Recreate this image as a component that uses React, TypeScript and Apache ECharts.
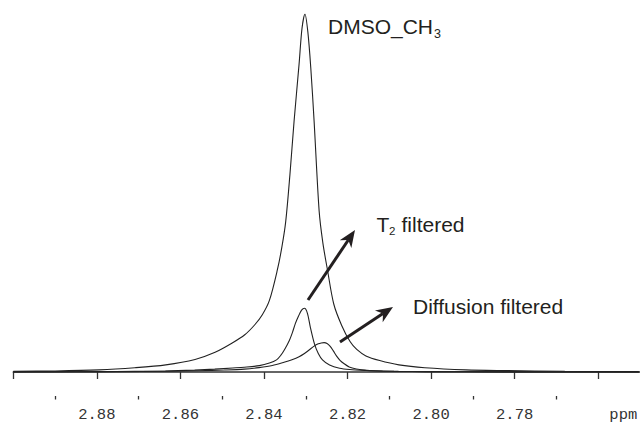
import React, { useEffect, useRef } from "react";
import * as echarts from "echarts";

// Chemical shift (ppm) and intensity (main peak = 100)
const mainPpm = [2.9, 2.89, 2.8795, 2.8709, 2.8635, 2.8565, 2.8517, 2.8476, 2.8446, 2.8422, 2.8404, 2.8387, 2.8368, 2.8357, 2.8348, 2.8338, 2.8328, 2.8316, 2.8309, 2.8302, 2.8295, 2.8288, 2.828, 2.8268, 2.8259, 2.8248, 2.8233, 2.8214, 2.8194, 2.8178, 2.8156, 2.8123, 2.8077, 2.8015, 2.7917, 2.7824, 2.768, 2.7503];
const mainInt = [0.2, 0.3, 0.6, 1.2, 2.0, 3.5, 5.5, 8.1, 10.4, 13.2, 16.0, 20, 28.5, 35, 42, 55, 70, 86, 96, 100, 95, 85, 70, 45, 36, 28.5, 19, 13, 8.5, 6.3, 4.5, 3.2, 2.0, 1.2, 0.6, 0.4, 0.2, 0.1];

const t2Ppm = [2.9, 2.8901, 2.8796, 2.871, 2.8636, 2.8566, 2.8518, 2.8475, 2.8447, 2.8411, 2.8387, 2.837, 2.836, 2.8351, 2.8339, 2.8332, 2.8325, 2.8317, 2.831, 2.8303, 2.8296, 2.8289, 2.8279, 2.827, 2.826, 2.8243, 2.8219, 2.8195, 2.8157, 2.8116, 2.8078, 2.8016, 2.7918, 2.7825, 2.7681, 2.7502];
const t2Int = [0.04, 0.07, 0.11, 0.18, 0.27, 0.53, 0.8, 1.12, 1.34, 1.78, 2.49, 3.38, 4.63, 6.23, 8.9, 11.0, 13.5, 15.7, 17.3, 17.8, 16.4, 12.5, 7.8, 5.2, 3.4, 1.96, 1.07, 0.71, 0.45, 0.27, 0.18, 0.11, 0.07, 0.05, 0.04, 0.02];

const diffPpm = [2.9, 2.8854, 2.8749, 2.8639, 2.8555, 2.8495, 2.8447, 2.8412, 2.838, 2.8352, 2.8333, 2.8316, 2.8304, 2.8292, 2.828, 2.827, 2.8263, 2.8256, 2.8249, 2.8242, 2.8234, 2.8227, 2.8218, 2.8208, 2.8196, 2.8179, 2.816, 2.8132, 2.8089, 2.8041, 2.7969, 2.7873, 2.773, 2.7502];
const diffInt = [0.03, 0.06, 0.1, 0.21, 0.37, 0.57, 0.82, 1.23, 1.8, 2.71, 3.44, 4.26, 5.08, 6.15, 7.22, 7.87, 8.12, 8.2, 7.95, 7.22, 5.9, 4.59, 3.28, 2.3, 1.39, 0.82, 0.53, 0.33, 0.21, 0.13, 0.08, 0.05, 0.02, 0.01];

// Axis ticks and labels
const majorTicks = [2.9, 2.88, 2.86, 2.84, 2.82, 2.8, 2.78, 2.76];
const minorTicks = [2.89, 2.87, 2.85, 2.83, 2.81, 2.79, 2.77];
const labeledTicks = [2.88, 2.86, 2.84, 2.82, 2.8, 2.78];
const unitPos = 2.754;
const unitLabel = "ppm";

function arrow(x0: number, y0: number, x1: number, y1: number) {
  const dx = x1 - x0;
  const dy = y1 - y0;
  const len = Math.sqrt(dx * dx + dy * dy);
  const ux = dx / len;
  const uy = dy / len;
  const nx = -uy;
  const ny = ux;
  const L = 17;
  const W = 7;
  const notch = 5;
  const bx = x1 - L * ux;
  const by = y1 - L * uy;
  const mx = x1 - (L - notch) * ux;
  const my = y1 - (L - notch) * uy;
  return [
    {
      type: "line",
      shape: { x1: x0, y1: y0, x2: mx, y2: my },
      style: { stroke: "#231f20", lineWidth: 3 },
    },
    {
      type: "polygon",
      shape: {
        points: [
          [x1, y1],
          [bx + W * nx, by + W * ny],
          [mx, my],
          [bx - W * nx, by - W * ny],
        ],
      },
      style: { fill: "#231f20" },
    },
  ];
}

export default function App() {
  const ref = useRef<HTMLDivElement>(null);
  useEffect(() => {
    if (!ref.current) return;
    const chart = echarts.init(ref.current, null, { renderer: "svg" });
    const lineStyle = { color: "#222", width: 1.1 };
    const textFont = "'Liberation Sans', Arial, sans-serif";
    const monoFont = "'Courier New', 'Liberation Mono', monospace";
    const textColor = "#231f20";
    chart.setOption({
      animation: false,
      backgroundColor: "#fff",
      grid: { left: 13.3, right: 0, top: 14, bottom: 28, containLabel: false, outerBoundsMode: "none" },
      xAxis: [
        {
          type: "value",
          position: "bottom",
          inverse: true,
          min: 2.75,
          max: 2.9,
          splitLine: { show: false },
          axisLine: { show: true, lineStyle: { color: "#333", width: 1.5 } },
          axisTick: { show: true, length: 7, customValues: majorTicks, lineStyle: { color: "#333", width: 1.3 } },
          axisLabel: {
            margin: 13,
            fontSize: 15.5,
            lineHeight: 12,
            color: "#333",
            fontFamily: monoFont,
            customValues: [...labeledTicks, unitPos],
            formatter: (v: number) => {
              if (Math.abs(v - unitPos) < 1e-6) return unitLabel;
              return (Math.round(v * 100) / 100).toFixed(2);
            },
          },
        },
        {
          type: "value",
          position: "bottom",
          inverse: true,
          min: 2.75,
          max: 2.9,
          splitLine: { show: false },
          axisLine: { show: false },
          axisTick: { show: true, length: 3.5, customValues: minorTicks, lineStyle: { color: "#333", width: 1.3 } },
          axisLabel: { show: false },
        },
      ],
      yAxis: { type: "value", min: -6.7, max: 100, show: false },
      series: [
        {
          type: "line",
          xAxisIndex: 0,
          data: mainPpm.map((p, i) => [p, mainInt[i]]),
          showSymbol: false,
          smooth: 0.3,
          lineStyle,
          silent: true,
        },
        {
          type: "line",
          xAxisIndex: 0,
          data: t2Ppm.map((p, i) => [p, t2Int[i]]),
          showSymbol: false,
          smooth: 0.3,
          lineStyle,
          silent: true,
        },
        {
          type: "line",
          xAxisIndex: 0,
          data: diffPpm.map((p, i) => [p, diffInt[i]]),
          showSymbol: false,
          smooth: 0.3,
          lineStyle,
          silent: true,
        },
      ],
      graphic: [
        {
          type: "text",
          left: 328,
          top: 15.5,
          style: { text: "DMSO_CH", fontSize: 21, fontFamily: textFont, fill: textColor },
        },
        {
          type: "text",
          left: 434,
          top: 27,
          style: { text: "3", fontSize: 12.5, fontFamily: textFont, fill: textColor },
        },
        {
          type: "text",
          left: 376.5,
          top: 213.5,
          style: { text: "T", fontSize: 21, fontFamily: textFont, fill: textColor },
        },
        {
          type: "text",
          left: 389,
          top: 225,
          style: { text: "2", fontSize: 11.5, fontFamily: textFont, fill: textColor },
        },
        {
          type: "text",
          left: 401.5,
          top: 213.5,
          style: { text: "filtered", fontSize: 21, fontFamily: textFont, fill: textColor },
        },
        {
          type: "text",
          left: 413,
          top: 295.5,
          style: { text: "Diffusion filtered", fontSize: 21, fontFamily: textFont, fill: textColor },
        },
        ...arrow(308, 300, 355, 230),
        ...arrow(340, 342, 393, 307),
      ],
    });
    return () => chart.dispose();
  }, []);
  return (
    <div
      ref={ref}
      style={{ position: "fixed", left: 0, top: 0, width: 640, height: 424, background: "#fff" }}
    />
  );
}
